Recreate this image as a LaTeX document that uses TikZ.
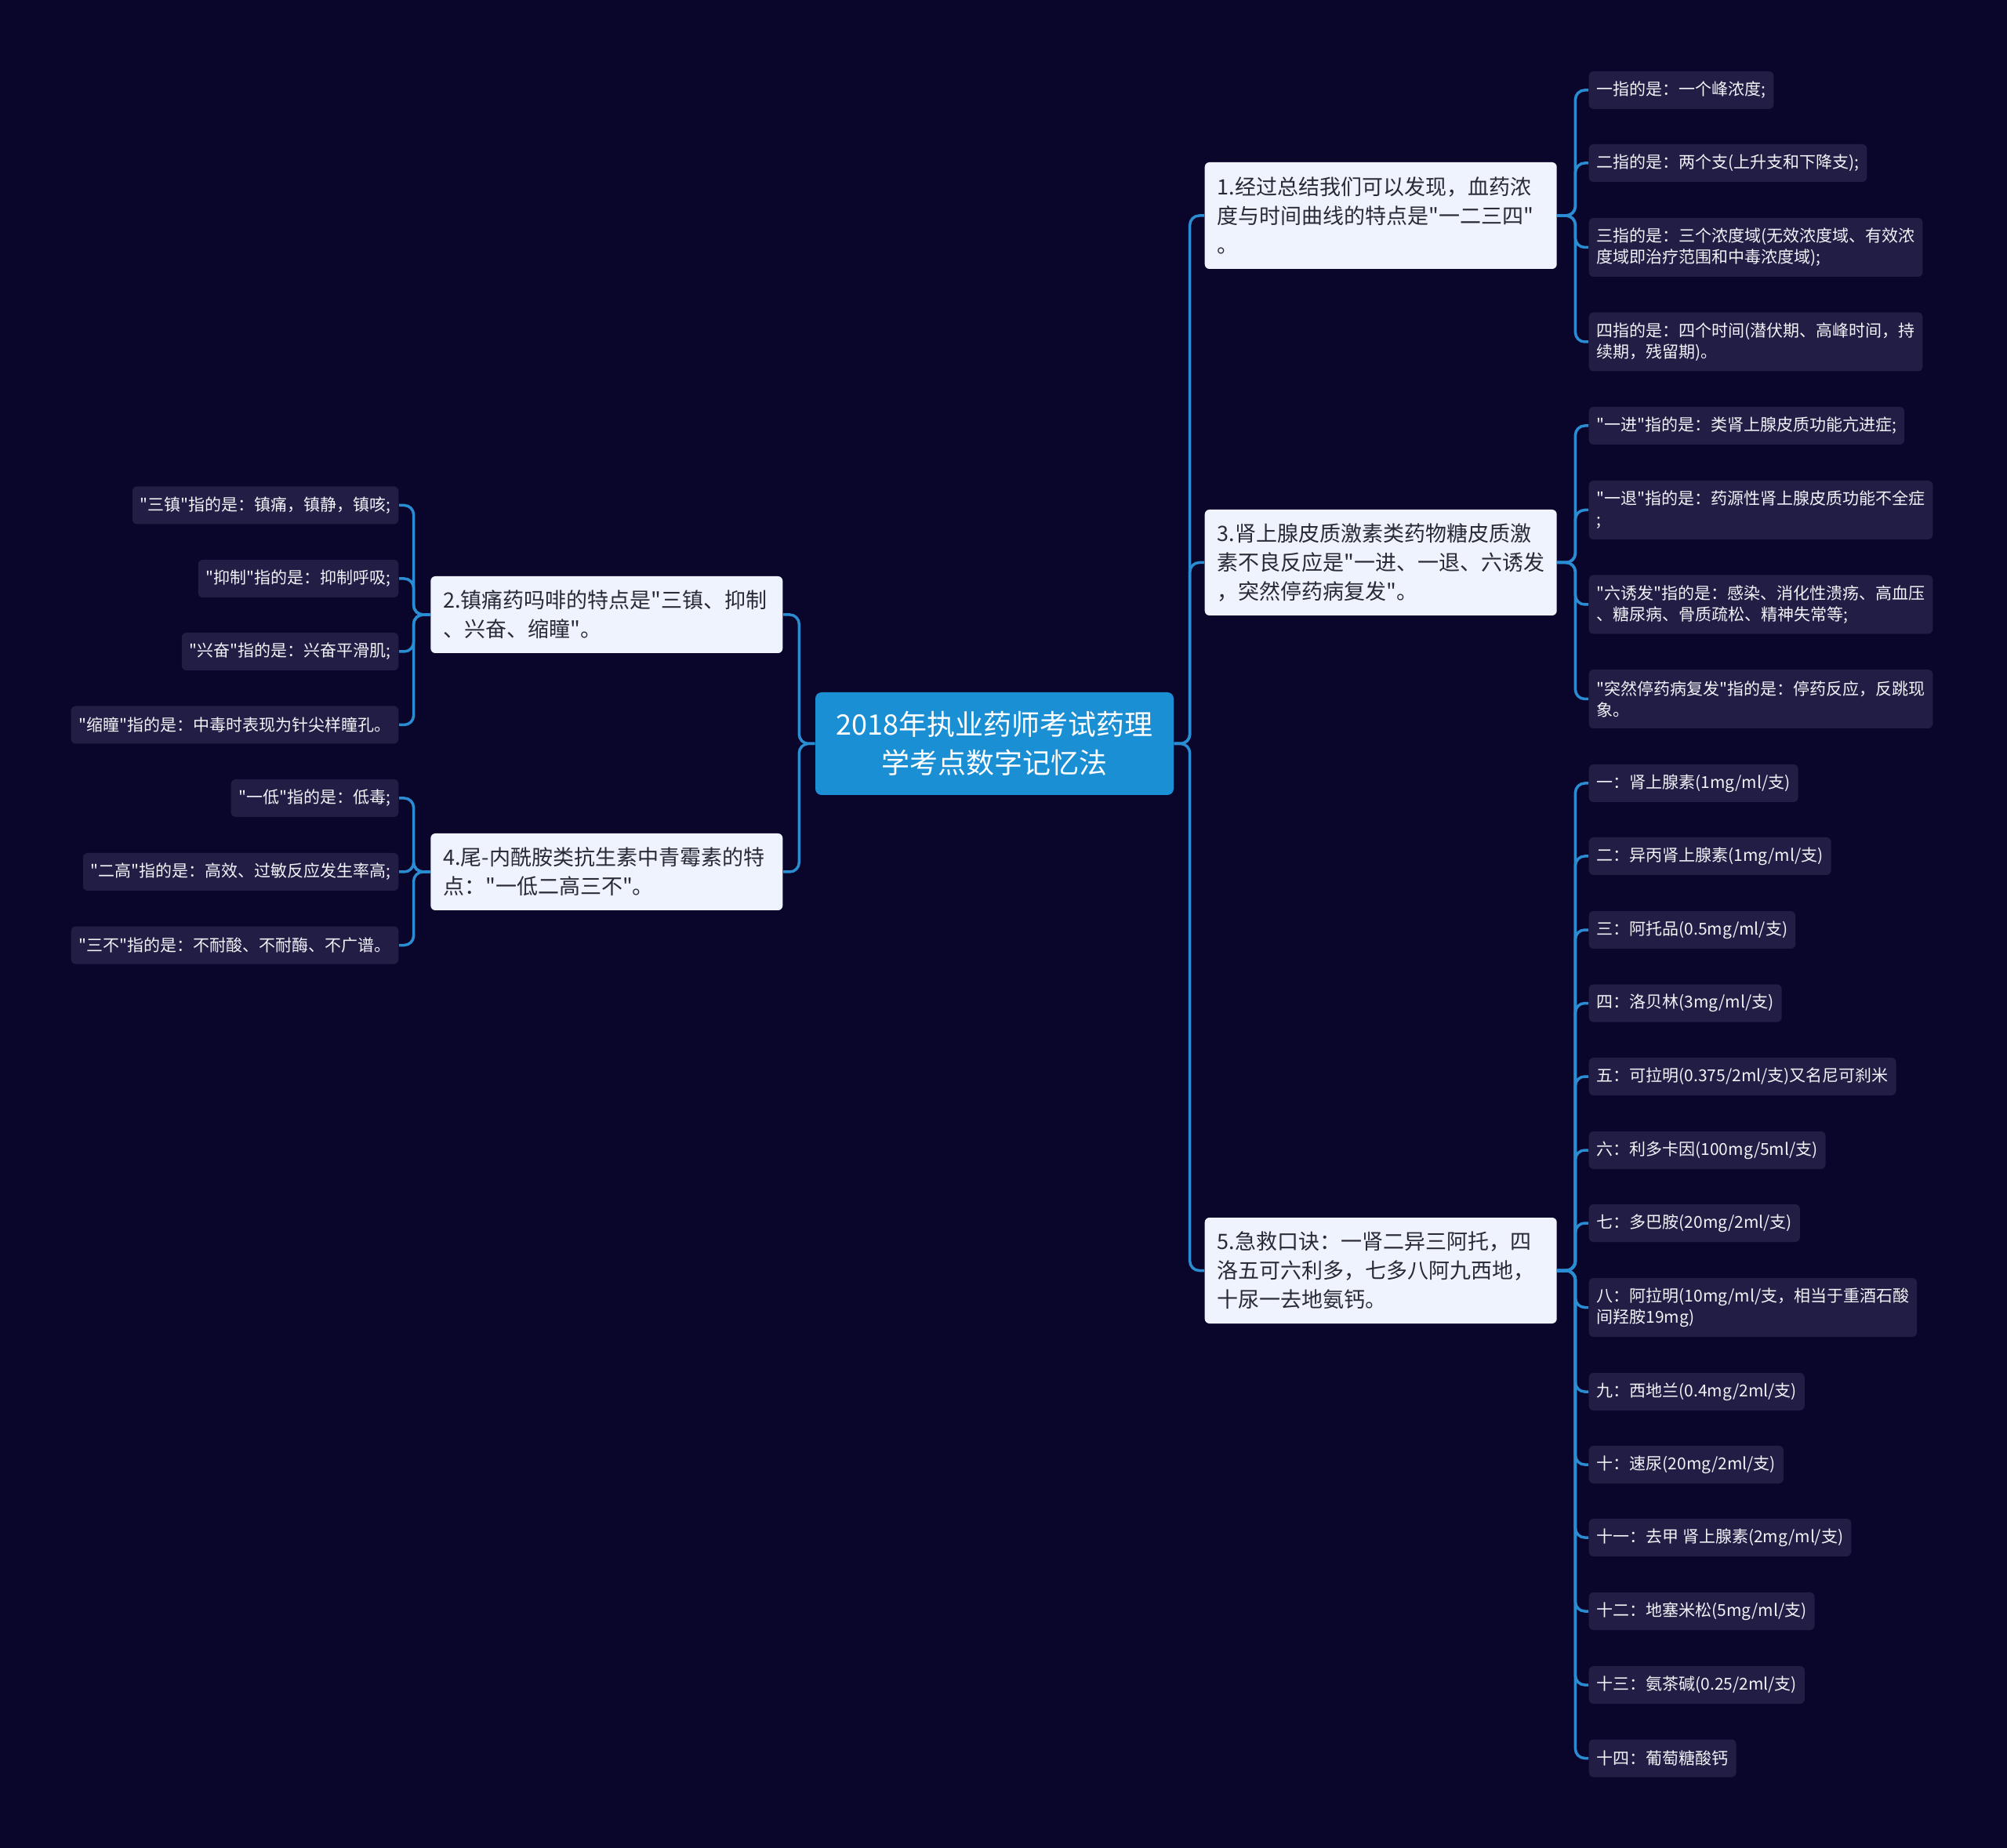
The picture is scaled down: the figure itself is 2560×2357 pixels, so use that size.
\documentclass[tikz,border=0pt]{standalone}
\usepackage{fontspec}
\setmainfont{Noto Sans CJK SC}[Ligatures=TeXOff]

\definecolor{bgnavy}{HTML}{0A062B}
\definecolor{rootblue}{HTML}{1B8FD4}
\definecolor{linkblue}{HTML}{2A8CD2}
\definecolor{branchbg}{HTML}{EEF3FD}
\definecolor{branchtext}{HTML}{2A2A35}
\definecolor{leafbg}{HTML}{221D45}
\definecolor{leaftext}{HTML}{F2F2F7}

\newcommand{\rootsize}{\fontsize{10.24pt}{13.94pt}\selectfont}
\newcommand{\branchsize}{\fontsize{7.68pt}{10.53pt}\selectfont}
\newcommand{\leafsize}{\fontsize{5.97pt}{7.68pt}\selectfont}

\tikzset{
  root/.style={fill=rootblue, rounded corners=0.8mm, text=white, font=\rootsize,
    minimum width=45.7mm, minimum height=13.1mm, align=center, inner sep=0pt},
  branch/.style={fill=branchbg, rounded corners=0.6mm, text=branchtext, font=\branchsize,
    text width=41.7mm, inner xsep=1.6mm, inner ysep=0pt, align=left},
  leaf/.style={fill=leafbg, rounded corners=0.6mm, text=leaftext, font=\leafsize,
    inner xsep=1mm, inner ysep=0pt, minimum height=4.8mm, align=left},
  leaftwo/.style={leaf, minimum height=7.5mm},
  link/.style={draw=linkblue, line width=0.35mm, rounded corners=1.2mm},
}

\begin{document}
\begin{tikzpicture}[x=0.1mm, y=-0.1mm]
  \fill[bgnavy] (0,0) rectangle (2560,2357);
  \useasboundingbox (0,0) rectangle (2560,2357);

  \node[root] (root) at (1268.5,948.5) {2018年执业药师考试药理\\学考点数字记忆法};

  % right branches
  \node[branch, anchor=west, minimum height=13.6mm] (curve) at (1536,275)
    {1.经过总结我们可以发现，血药浓\\度与时间曲线的特点是"一二三四"\\。};
  \node[branch, anchor=west, minimum height=13.5mm] (steroid) at (1536,717.5)
    {3.肾上腺皮质激素类药物糖皮质激\\素不良反应是"一进、一退、六诱发\\，突然停药病复发"。};
  \node[branch, anchor=west, minimum height=13.5mm] (rescue) at (1536,1620.5)
    {5.急救口诀：一肾二异三阿托，四\\洛五可六利多，七多八阿九西地，\\十尿一去地氨钙。};

  % left branches
  \node[branch, anchor=east, minimum height=9.8mm] (morphine) at (999,784)
    {2.镇痛药吗啡的特点是"三镇、抑制\\、兴奋、缩瞳"。};
  \node[branch, anchor=east, minimum height=9.8mm] (penicillin) at (999,1112)
    {4.尾-内酰胺类抗生素中青霉素的特\\点："一低二高三不"。};

  % leaves of curve
  \node[leaf, anchor=west] (curve1) at (2026,115) {一指的是：一个峰浓度;};
  \node[leaf, anchor=west] (curve2) at (2026,208) {二指的是：两个支(上升支和下降支);};
  \node[leaftwo, anchor=west] (curve3) at (2026,315.5)
    {三指的是：三个浓度域(无效浓度域、有效浓\\度域即治疗范围和中毒浓度域);};
  \node[leaftwo, anchor=west] (curve4) at (2026,436)
    {四指的是：四个时间(潜伏期、高峰时间，持\\续期，残留期)。};

  % leaves of steroid
  \node[leaf, anchor=west] (steroid1) at (2026,543) {"一进"指的是：类肾上腺皮质功能亢进症;};
  \node[leaftwo, anchor=west] (steroid2) at (2026,650.5)
    {"一退"指的是：药源性肾上腺皮质功能不全症\\;};
  \node[leaftwo, anchor=west] (steroid3) at (2026,771)
    {"六诱发"指的是：感染、消化性溃疡、高血压\\、糖尿病、骨质疏松、精神失常等;};
  \node[leaftwo, anchor=west] (steroid4) at (2026,891.5)
    {"突然停药病复发"指的是：停药反应，反跳现\\象。};

  % leaves of rescue
  \node[leaf, anchor=west] (rescue1) at (2026,999) {一：肾上腺素(1mg/ml/支)};
  \node[leaf, anchor=west] (rescue2) at (2026,1092) {二：异丙肾上腺素(1mg/ml/支)};
  \node[leaf, anchor=west] (rescue3) at (2026,1186) {三：阿托品(0.5mg/ml/支)};
  \node[leaf, anchor=west] (rescue4) at (2026,1279.5) {四：洛贝林(3mg/ml/支)};
  \node[leaf, anchor=west] (rescue5) at (2026,1373) {五：可拉明(0.375/2ml/支)又名尼可刹米};
  \node[leaf, anchor=west] (rescue6) at (2026,1467) {六：利多卡因(100mg/5ml/支)};
  \node[leaf, anchor=west] (rescue7) at (2026,1560) {七：多巴胺(20mg/2ml/支)};
  \node[leaftwo, anchor=west] (rescue8) at (2026,1667.5)
    {八：阿拉明(10mg/ml/支，相当于重酒石酸\\间羟胺19mg)};
  \node[leaf, anchor=west] (rescue9) at (2026,1775) {九：西地兰(0.4mg/2ml/支)};
  \node[leaf, anchor=west] (rescue10) at (2026,1868) {十：速尿(20mg/2ml/支)};
  \node[leaf, anchor=west] (rescue11) at (2026,1961) {十一：去甲 肾上腺素(2mg/ml/支)};
  \node[leaf, anchor=west] (rescue12) at (2026,2055) {十二：地塞米松(5mg/ml/支)};
  \node[leaf, anchor=west] (rescue13) at (2026,2149) {十三：氨茶碱(0.25/2ml/支)};
  \node[leaf, anchor=west] (rescue14) at (2026,2242.5) {十四：葡萄糖酸钙};

  % leaves of morphine
  \node[leaf, anchor=east] (morphine1) at (509,644.5) {"三镇"指的是：镇痛，镇静，镇咳;};
  \node[leaf, anchor=east] (morphine2) at (509,738) {"抑制"指的是：抑制呼吸;};
  \node[leaf, anchor=east] (morphine3) at (509,831) {"兴奋"指的是：兴奋平滑肌;};
  \node[leaf, anchor=east] (morphine4) at (509,924.5) {"缩瞳"指的是：中毒时表现为针尖样瞳孔。};

  % leaves of penicillin
  \node[leaf, anchor=east] (penicillin1) at (509,1018) {"一低"指的是：低毒;};
  \node[leaf, anchor=east] (penicillin2) at (509,1112) {"二高"指的是：高效、过敏反应发生率高;};
  \node[leaf, anchor=east] (penicillin3) at (509,1205.5) {"三不"指的是：不耐酸、不耐酶、不广谱。};

  % links
  \foreach \n in {curve, steroid, rescue} { \draw[link] (root.east) -- ++(20,0) |- (\n.west); }
  \foreach \n in {morphine, penicillin} { \draw[link] (root.west) -- ++(-20,0) |- (\n.east); }
  \foreach \i in {1,...,4} { \draw[link] (curve.east) -- ++(23,0) |- (curve\i.west); }
  \foreach \i in {1,...,4} { \draw[link] (steroid.east) -- ++(23,0) |- (steroid\i.west); }
  \foreach \i in {1,...,14} { \draw[link] (rescue.east) -- ++(23,0) |- (rescue\i.west); }
  \foreach \i in {1,...,4} { \draw[link] (morphine.west) -- ++(-21,0) |- (morphine\i.east); }
  \foreach \i in {1,...,3} { \draw[link] (penicillin.west) -- ++(-21,0) |- (penicillin\i.east); }
\end{tikzpicture}
\end{document}
